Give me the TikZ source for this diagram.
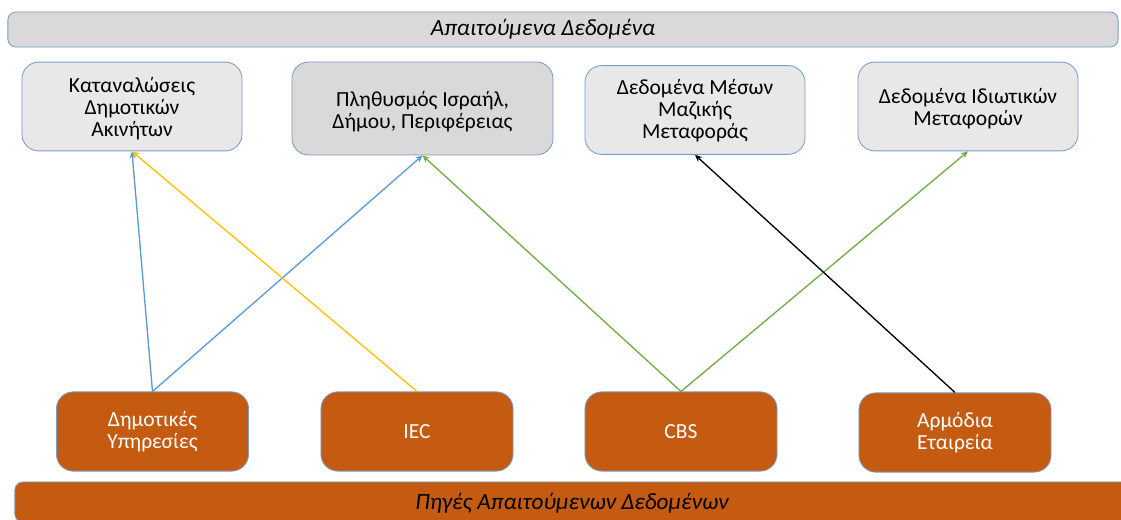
\documentclass[tikz,border=0pt]{standalone}
\usepackage{fontspec}
\setmainfont{Carlito}
\usetikzlibrary{arrows.meta}
\definecolor{rim}{HTML}{7B9CC6}
\definecolor{palegray}{HTML}{E8E8E8}
\definecolor{midgray}{HTML}{D9D9D9}
\definecolor{rust}{HTML}{C55A11}
\definecolor{lblue}{HTML}{5B9BD5}
\definecolor{lgold}{HTML}{FFC000}
\definecolor{lgreen}{HTML}{70AD47}
\tikzset{
  every node/.style={font=\fontsize{15.3}{15.65}\selectfont, align=center, inner sep=0pt},
  bannertext/.style={font=\fontsize{16.5}{18}\selectfont\itshape},
  banner/.style={draw=rim, line width=0.6pt, rounded corners=0.2cm},
  databox/.style={draw=rim, line width=0.6pt, fill=palegray, rounded corners=0.42cm,
    minimum width=5.5cm, minimum height=2.22cm},
  srcbox/.style={draw=rim, line width=0.6pt, fill=rust, text=white, rounded corners=0.42cm,
    minimum width=4.8cm, minimum height=1.98cm},
  link/.style={line width=0.95pt, -{Stealth[length=5pt,width=4.5pt]}}
}
\begin{document}
\begin{tikzpicture}[x=0.025cm, y=-0.025cm]
  \useasboundingbox (0,0) rectangle (1121,520);
  % top banner
  \node[banner, fill=midgray, minimum width=27.75cm, minimum height=0.875cm] (top) at (563,29.5) {};
  \node[bannertext] (toptxt) at (543,29.5) {Απαιτούμενα Δεδομένα};
  % bottom banner, running off the right edge
  \node[banner, fill=rust, minimum width=28cm, minimum height=1.0cm] (bottom) at (575,502) {};
  \node[bannertext] (bottomtxt) at (572,503) {Πηγές Απαιτούμενων Δεδομένων};
  % required data
  \node[databox] (a) at (132,106.5) {};
  \node (atxt) at (132,109) {Καταναλώσεις\\Δημοτικών\\Ακινήτων};
  \node[databox, fill=midgray, minimum width=6.525cm, minimum height=2.325cm] (b) at (422.5,108.5) {};
  \node (btxt) at (422.5,111.5) {Πληθυσμός Ισραήλ,\\Δήμου, Περιφέρειας};
  \node[databox] (c) at (695,110) {};
  \node (ctxt) at (695,111) {Δεδομένα Μέσων\\Μαζικής\\Μεταφοράς};
  \node[databox] (d) at (968,106.5) {};
  \node (dtxt) at (968,108.5) {Δεδομένα Ιδιωτικών\\Μεταφορών};
  % data sources
  \node[srcbox] (s1) at (152.5,431.5) {Δημοτικές\\Υπηρεσίες};
  \node[srcbox] (s2) at (417,431.5) {IEC};
  \node[srcbox] (s3) at (681,431.5) {CBS};
  \node[srcbox] (s4) at (955,432.5) {Αρμόδια\\Εταιρεία};
  % links
  \draw[link, lblue] (s1.north) -- (a.south);
  \draw[link, lblue] (s1.north) -- (b.south);
  \draw[link, lgold] (s2.north) -- (a.south);
  \draw[link, lgreen] (s3.north) -- (b.south);
  \draw[link, lgreen] (s3.north) -- (d.south);
  \draw[link, black] (s4.north) -- (c.south);
\end{tikzpicture}
\end{document}
